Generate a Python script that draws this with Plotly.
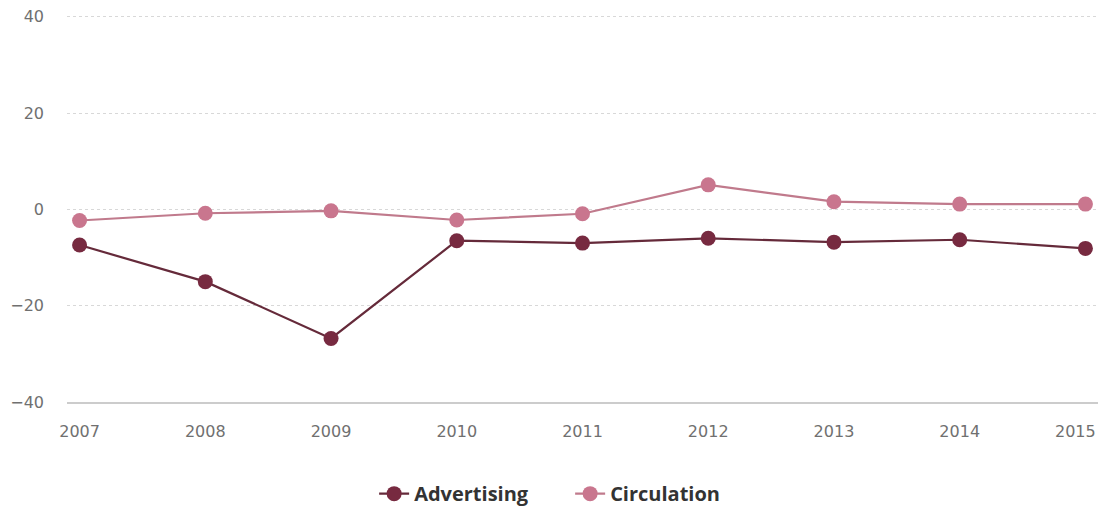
import plotly.graph_objects as go

years = [2007, 2008, 2009, 2010, 2011, 2012, 2013, 2014, 2015]
advertising = [-7.4, -15.0, -26.8, -6.5, -7.0, -6.0, -6.8, -6.3, -8.1]
circulation = [-2.3, -0.8, -0.3, -2.2, -0.9, 5.1, 1.6, 1.1, 1.1]
y_ticks = [-40, -20, 0, 20, 40]

fig = go.Figure()
fig.add_trace(go.Scatter(
    x=years, y=advertising, name="Advertising", mode="lines+markers",
    line=dict(color="#652a3a", width=2.2),
    marker=dict(color="#772a40", size=15),
))
fig.add_trace(go.Scatter(
    x=years, y=circulation, name="Circulation", mode="lines+markers",
    line=dict(color="#c07a8c", width=2.2),
    marker=dict(color="#c9768e", size=15),
))

tick_font = dict(family="DejaVu Sans, sans-serif", size=16, color="#707070")

fig.update_layout(
    width=1098, height=508,
    margin=dict(l=67, r=0, t=12, b=106, autoexpand=False),
    paper_bgcolor="white", plot_bgcolor="white",
    font=tick_font,
    showlegend=True,
    legend=dict(
        orientation="h", x=0.488, xanchor="center", y=-0.235, yanchor="middle",
        font=dict(family="Open Sans, sans-serif", size=20, color="#333333", weight="bold"),
        itemwidth=30, entrywidth=151, entrywidthmode="pixels",
    ),
    hovermode=False,
)
# the last year label sits at the right edge, so it is pulled inside the page
fig.update_xaxes(
    range=[2006.9, 2015.1], tickvals=years[:-1], ticktext=[str(y) for y in years[:-1]],
    showgrid=False, zeroline=False, showline=True, linecolor="#cccccc",
    linewidth=1.5, ticks="", ticklabelstandoff=14, tickfont=tick_font,
)
fig.add_annotation(
    x=1, xref="paper", xanchor="right", y=-40, yref="y",
    yanchor="top", yshift=-18, text=str(years[-1]), showarrow=False,
    font=tick_font,
)
fig.update_yaxes(
    range=[-40, 41], tickvals=y_ticks, showgrid=True, gridcolor="#d8d8d8",
    griddash="dot", gridwidth=1, zeroline=False, showline=False,
    ticks="", ticklabelstandoff=22, tickfont=tick_font,
)

fig.write_html("out.html")
